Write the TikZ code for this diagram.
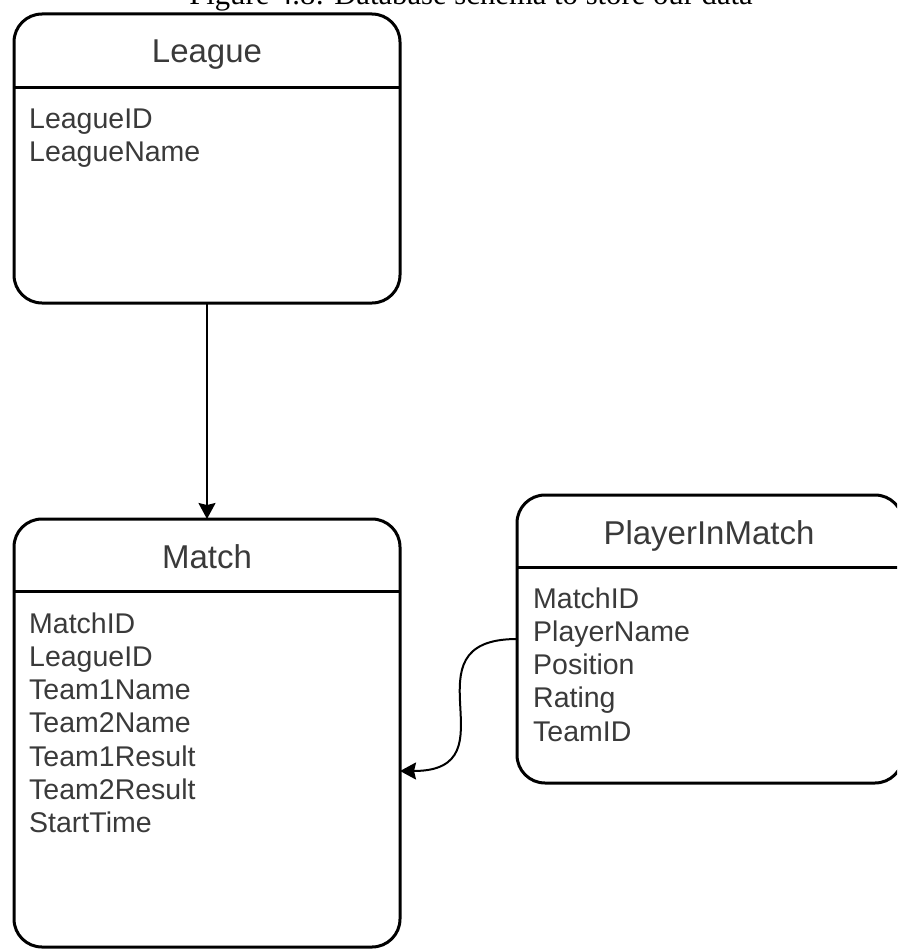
\documentclass[tikz,border=0pt]{standalone}
\usepackage{fontspec}
\setmainfont{Liberation Sans}
\newfontfamily\captionserif{Liberation Serif}
\usetikzlibrary{arrows.meta,calc}
\definecolor{ink}{HTML}{3A3A3A}

\begin{document}
\begin{tikzpicture}[x=1pt,y=-1pt,
  entity/.style={draw=black, line width=3pt, rounded corners=28pt,
    anchor=north west, inner sep=0pt, outer sep=0pt},
  heading/.style={text=ink, font=\fontsize{33}{40}\selectfont, anchor=base, inner sep=0pt},
  attr/.style={text=ink, font=\fontsize{28.5}{33.3}\selectfont, anchor=base west, inner sep=0pt},
  divider/.style={line width=3pt},
  conn/.style={line width=2pt, -{Stealth[length=16pt,width=17pt,inset=2pt]}}
]
% page frame
\useasboundingbox (0,0) rectangle (897,950);
\fill[white] (0,0) rectangle (897,950);
\clip (0,0) rectangle (897,950);

% caption line above the schema
\node[font=\captionserif\fontsize{30.7}{36}\selectfont, anchor=base east, inner sep=0pt]
  (caption) at (753,5) {Figure 4.8: Database schema to store our data};

% tables
\node[entity, minimum width=386pt, minimum height=289pt] (league) at (14,14) {};
\node[entity, minimum width=386pt, minimum height=428pt] (match) at (14,519) {};
\node[entity, minimum width=386pt, minimum height=288pt] (pim) at (517,495) {};

% header dividers
\foreach \b/\d in {league/73, match/72, pim/72}
  \draw[divider] ($(\b.north west)+(0,\d)$) -- ($(\b.north east)+(0,\d)$);

% table names
\node[heading] (league-name) at ($(league.north)+(0,49)$) {League};
\node[heading] (match-name) at ($(match.north)+(0,49)$) {Match};
\node[heading] (pim-name) at ($(pim.north)+(-1,49)$) {PlayerInMatch};

% columns
\foreach \t [count=\i] in {LeagueID,LeagueName}
  \node[attr] (league-f\i) at ($(league.north west)+(15,{114+33.3*(\i-1)})$) {\t};
\foreach \t [count=\i] in {MatchID,LeagueID,Team1Name,Team2Name,Team1Result,Team2Result,StartTime}
  \node[attr] (match-f\i) at ($(match.north west)+(15,{114+33.3*(\i-1)})$) {\t};
\foreach \t [count=\i] in {MatchID,PlayerName,Position,Rating,TeamID}
  \node[attr] (pim-f\i) at ($(pim.north west)+(16,{113+33.3*(\i-1)})$) {\t};

% relations
\draw[conn] (league.south) -- (match.north);
\coordinate (mtgt) at ($(match.north east)+(0,252)$);
\draw[conn] (pim.west) .. controls ($(pim.west)+(-117,0)$) and ($(mtgt)+(117,0)$) .. (mtgt);
\end{tikzpicture}
\end{document}
